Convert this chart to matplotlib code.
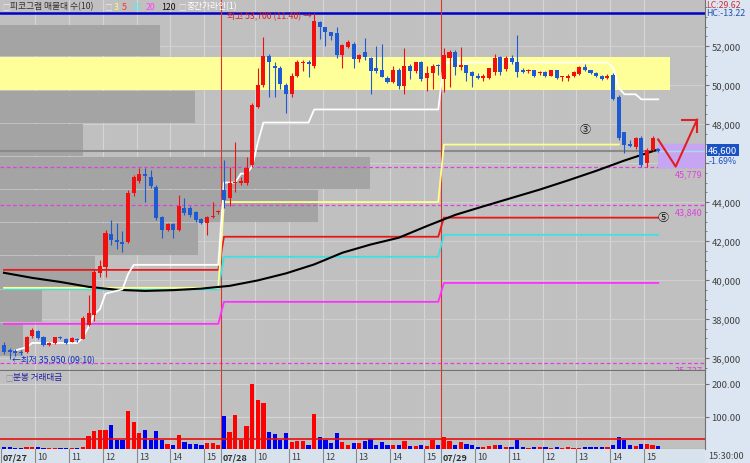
import numpy as np
import matplotlib
matplotlib.use("Agg")
import matplotlib.pyplot as plt
from matplotlib.patches import Rectangle

plt.rcParams['font.family'] = ['Noto Sans CJK KR', 'DejaVu Sans']

# 10-minute candles, 39 bars a day (07/27, 07/28, 07/29)
opens = [36670, 36400, 36350, 36300, 36310, 37130, 37390, 37080, 36650, 36770,
         37080, 36980, 36820, 36920, 36980, 37700, 38210, 40370, 40680, 42370,
         42060, 41960, 41960, 44480, 45100, 45460, 45300, 44790, 43250, 42580,
         42890, 42580, 43710, 43710, 43500, 43140, 42940, 43250, 43480,
         44640, 44220, 44990, 45000, 45000, 45920, 48900, 50030, 51470, 51000,
         50900, 49980, 49520, 50490, 51150, 51210, 50960, 53220, 52960, 52700,
         52650, 51520, 51980, 52090, 51320, 51680, 51370, 50860, 50750, 50390,
         50180, 50800, 49930, 51000, 50700, 51160, 50340, 50600, 51000,
         50290, 51370, 51680, 50910, 51010, 50650, 50490, 50390, 50390, 50650,
         51420, 50810, 51370, 51210, 50800, 50700, 50750, 50600, 50650, 50490,
         50750, 50400, 50350, 50490, 50550, 50910, 50750, 50600, 50450, 50340,
         50540, 49410, 47570, 46950, 46800, 47310, 46020, 46690, 46700]
closes = [36310, 36300, 36280, 36260, 37080, 37440, 37030, 36670, 36750, 37080,
          37000, 36770, 37030, 36900, 38060, 38310, 40420, 40730, 42430, 42070,
          41960, 41850, 44480, 45300, 45460, 45350, 44840, 43200, 42580, 42890,
          42580, 43810, 43450, 43350, 43090, 42940, 43250, 43300, 43520,
          44120, 44990, 45050, 45100, 45770, 49000, 50030, 51470, 51160, 50900,
          50080, 49520, 50490, 51210, 51210, 51060, 53280, 52960, 52700, 52500,
          51520, 52040, 52190, 51320, 51520, 51420, 50700, 50700, 50440, 50180,
          50750, 49930, 51000, 50700, 51160, 50290, 50600, 51000, 50980,
          51520, 51680, 50910, 51010, 50600, 50490, 50390, 50490, 50860, 51370,
          50650, 51370, 51210, 50650, 50650, 50750, 50490, 50600, 50490, 50750,
          50340, 50400, 50450, 50650, 50910, 50750, 50600, 50450, 50290, 50490,
          49310, 47310, 46950, 46900, 47310, 45920, 46690, 47310, 46600]
highs = [36820, 36500, 36450, 36400, 37150, 37540, 37450, 37120, 36800, 37100,
         37150, 37000, 37060, 37000, 38150, 39240, 40500, 41040, 42580, 43090,
         42900, 42500, 44640, 45400, 45770, 45750, 45620, 44850, 43300, 42950,
         42950, 44380, 44220, 43800, 43550, 43200, 43300, 44000, 43600,
         46180, 45820, 47100, 45300, 46300, 49100, 50900, 52450, 51600, 51200,
         51000, 50100, 50600, 51300, 51300, 51300, 53700, 53300, 53000, 52750,
         53000, 52100, 52300, 52200, 51600, 52400, 51450, 52000, 52090, 50450,
         51000, 50900, 51920, 51100, 51200, 51250, 51000, 51100, 51100,
         51880, 51800, 51800, 51930, 51050, 50700, 50600, 50550, 50900, 51600,
         51500, 51500, 51550, 52550, 50900, 50850, 50800, 50700, 50700, 50800,
         50800, 50450, 50550, 50700, 51000, 51100, 50800, 50650, 50500, 50550,
         50600, 49500, 47600, 47200, 47350, 47400, 46750, 47400, 46750]
lows = [36200, 35950, 36100, 36150, 36250, 37050, 36950, 36600, 36600, 36720,
        36950, 36720, 36800, 36820, 36950, 37650, 37900, 40160, 40160, 41800,
        41600, 41450, 41900, 44300, 45000, 44020, 44700, 43100, 42170, 42500,
        42170, 42500, 43350, 43250, 43000, 42880, 42320, 43200, 43400,
        43710, 43800, 44500, 44900, 44900, 45800, 48800, 49900, 49400, 49400,
        49800, 48590, 49400, 50400, 50700, 50440, 50900, 52350, 52000, 52300,
        51400, 50900, 51900, 50900, 51200, 51300, 49520, 50600, 50400, 50100,
        50100, 49800, 49520, 50300, 50600, 50200, 49700, 49780, 50500,
        49670, 49900, 50500, 50800, 50200, 49900, 50300, 50200, 50300, 50500,
        50500, 50700, 51100, 50400, 50600, 50600, 50400, 50500, 50400, 50450,
        50300, 50200, 50200, 50400, 50500, 50700, 50550, 50400, 50250, 50300,
        49250, 47200, 46540, 46800, 46700, 45800, 45820, 46600, 46550]

# 분봉 거래대금 (10-min traded value)
volume = [6, 6, 4, 4, 6, 5, 5, 3, 3, 3, 3, 3, 3, 3, 7, 41, 56, 60, 58, 73,
          27, 29, 116, 83, 49, 58, 29, 54, 29, 16, 12, 43, 23, 14, 14, 11, 20, 20, 12,
          101, 53, 104, 29, 71, 199, 151, 143, 51, 46, 29, 49, 21, 26, 25, 13, 109,
          36, 27, 20, 48, 21, 13, 19, 18, 25, 30, 13, 23, 11, 13, 11, 26, 9, 9, 11,
          9, 28, 13,
          36, 25, 12, 22, 16, 13, 6, 6, 8, 11, 11, 7, 6, 28, 5, 3, 5, 5, 5, 3, 5,
          4, 5, 4, 4, 5, 5, 5, 5, 5, 13, 36, 29, 13, 8, 15, 15, 13, 9]
vol_avg = 32

dates = ['07/27', '07/28', '07/29']
hours = ['10', '11', '12', '13', '14', '15']
bars_per_day = 39

# daily moving averages 3, 5, 10, 20 (one level per day)
ma3 = [39600, 44000, 46950]
ma5 = [40520, 42220, 43200]
ma10 = [39520, 41190, 42320]
ma20 = [37750, 38880, 39850]

# 120-bar moving average
ma120_idx = [0, 5, 10, 15, 20, 25, 30, 35, 40, 45, 50, 55, 60, 65, 70, 75,
             80, 85, 90, 95, 100, 105, 110, 116]
ma120 = [40370, 40110, 39900, 39650, 39500, 39440, 39480, 39560, 39700, 39980,
         40340, 40800, 41400, 41820, 42170, 42770, 43340, 43780, 44210, 44640,
         45110, 45600, 46130, 46700]

# 중간가라인
mid_idx = [2, 4, 5, 13, 14, 15, 16, 17, 18, 21, 22, 23, 38, 39, 41, 42, 43,
           44, 45, 46, 54, 55, 77, 78, 107, 108, 109, 110, 112, 113, 116]
mid_val = [36390, 36550, 36770, 36770, 37050, 37600, 38250, 38500, 39300,
           39520, 40300, 40780, 40780, 45000, 45000, 45460, 45460, 45820, 47050,
           48080, 48080, 48750, 48750, 51160, 51160, 50900, 49870, 49530, 49530,
           49270, 49270]

# 매물대 (10 price bands) and relative volume in %
band_edges = [36050, 37800, 39500, 41250, 42950, 44640, 46340, 48040, 49740, 51490, 53130]
band_vol = [3.4, 6.3, 14.2, 29.6, 47.5, 55.2, 12.4, 29.1, 100, 23.9]

high_price, high_time = 53700, '11:40'
low_price, low_time = 35950, '09:10'
last_price, last_change = 46600, -1.69
levels = [45779, 43840, 35727]
lc, hc = 29.62, -13.22

# projection drawn on the right
proj_x = [116, 119.1, 122.9]
proj_y = [47210, 45820, 48230]
head_x = [120.2, 122.9, 122.9]
head_y = [48230, 48230, 47570]

W, H = 750, 464
BG = '#c0c0c0'
PANEL = '#dce6f2'
fig = plt.figure(figsize=(7.5, 4.64), dpi=100)
fig.patch.set_facecolor(PANEL)

def fx(x):
    return x / W

def fy(y):
    return 1 - y / H

ax = fig.add_axes([0, fy(371), fx(705), 371 / H])
axv = fig.add_axes([0, fy(450), fx(705), 78 / H], sharex=ax)
axd = fig.add_axes([0, 0, fx(705), 14 / H], sharex=ax)

n = len(opens)
idx = np.arange(n)
o = np.array(opens)
c = np.array(closes)
up = c >= o
xmin, xmax = -0.71, 124.3

for a in (ax, axv):
    a.set_facecolor(BG)
    a.set_xlim(xmin, xmax)
    for s in ('left', 'top'):
        a.spines[s].set_visible(False)
    for s in ('right', 'bottom'):
        a.spines[s].set_color('#707070')
    a.tick_params(axis='x', bottom=False, labelbottom=False)
    a.yaxis.tick_right()
    a.tick_params(axis='y', labelsize=6.8, labelcolor='#404040', color='#707070',
                  length=3, pad=1.5)

ax.set_ylim(35383, 54418)
axv.set_ylim(0, 240)

# grid
hour_pos = []
day_pos = []
for d in range(len(dates)):
    day_pos.append(d * bars_per_day - 0.5)
    for k in range(1, len(hours) + 1):
        hour_pos.append(d * bars_per_day + 6 * k - 0.5)
for a in (ax, axv):
    for p in hour_pos:
        a.axvline(p, color='#d6d6d6', lw=0.8, zorder=0.6)
for p in range(36000, 54000, 2000):
    ax.axhline(p, color='#d0d0d0', lw=0.8, zorder=0.6)
for p in (100, 200):
    axv.axhline(p, color='#d6d6d6', lw=0.8, zorder=0.6)

# 매물대
span = 118.1 - xmin
for k in range(len(band_vol)):
    lo, hi = band_edges[k], band_edges[k + 1]
    col = '#ffff99' if band_vol[k] == max(band_vol) else '#a4a4a4'
    ax.barh((lo + hi) / 2, band_vol[k] / 100 * span, left=xmin, height=(hi - lo) * 0.97,
            color=col, zorder=0.8)

# levels
for lv in levels:
    ax.axhline(lv, color='#e040e0', lw=0.9, ls=(0, (3, 2)), zorder=1)
    t = ax.text(123.9, lv - 120, f'{lv:,}', color='#e040e0', fontsize=6.5,
                ha='right', va='top', zorder=6)
    t.set_clip_on(True)
ax.axhline(high_price, color='#0000c8', lw=1.8, zorder=2)
ax.axhline(last_price, color='#8a8a8a', lw=1.5, zorder=2)
for p in day_pos[1:]:
    ax.axvline(p, color='#e03030', lw=0.8, zorder=2)
    axv.axvline(p, color='#e03030', lw=0.8, zorder=2)

# daily MA steps
def day_steps(vals, end=None):
    xs = np.arange(len(vals) * bars_per_day)
    ys = np.repeat(vals, bars_per_day)
    if end is not None:
        xs, ys = xs[:end], ys[:end]
    return xs, ys

for vals, col, end in ((ma20, '#ff30ff', None), (ma10, '#40e0e0', None),
                       (ma5, '#e81818', None), (ma3, '#ffff90', 110)):
    xs, ys = day_steps(vals, end)
    ax.plot(xs, ys, color=col, lw=1.3, zorder=2.5)
ax.plot(ma120_idx, ma120, color='#000000', lw=1.5, zorder=2.6)
ax.plot(mid_idx, mid_val, color='#ffffff', lw=1.3, zorder=2.7)

# candles
ccol = np.where(up, '#f01010', '#1e5ad2')
ax.vlines(idx, lows, highs, colors=ccol, lw=0.8, zorder=3)
body = np.maximum(np.abs(c - o), 55)
ax.bar(idx, body, bottom=np.minimum(o, c), width=0.72, color=ccol, zorder=4)

# projection box and arrow
ax.add_patch(Rectangle((116, 45780), xmax - 116, 47000 - 45780, color='#c6a6f2', zorder=2.8))
ax.plot([116, xmax], [last_price, last_price], color='#a6dce6', lw=1, zorder=2.9)
ax.plot(proj_x, proj_y, color='#e02020', lw=1.5, zorder=5)
ax.plot(head_x, head_y, color='#e02020', lw=1.5, zorder=5)
ax.text(103, 47730, '③', fontsize=8, ha='center', va='center', color='#101010', zorder=6)
ax.text(116.8, 43220, '⑤', fontsize=8, ha='center', va='center', color='#101010', zorder=6)

ax.text(39.6, 53560, f'최고 {high_price:,} ({high_time}) →', color='#e02020',
        fontsize=6.3, ha='left', va='center', zorder=6)
ax.text(1.4, 35900, f'←최저 {low_price:,} ({low_time})', color='#1030c0',
        fontsize=6.3, ha='left', va='center', zorder=6)

# the 46,000 label sits under the current-price box
yt = list(range(36000, 54000, 2000))
ax.set_yticks(yt)
ax.set_yticklabels(['' if v == 46000 else f'{v:,}' for v in yt])
ax.set_yticks(range(35500, 54500, 500), minor=True)
ax.tick_params(axis='y', which='minor', length=1.5, color='#707070')

# volume
vcol = np.where(up, '#ff0000', '#0000f0')
axv.bar(idx, volume, width=0.75, color=vcol, zorder=3)
axv.axhline(vol_avg, color='#e81010', lw=1.2, zorder=4)
axv.set_yticks([100, 200])
axv.set_yticklabels(['100.00', '200.00'])
axv.text(0.3, 222, '□', color='#9090a0', fontsize=5.5, va='center')
axv.text(1.6, 222, '분봉 거래대금', color='#2020a0', fontsize=6.2, va='center')

# date strip
axd.set_facecolor('#d8e2ec')
axd.set_ylim(0, 1)
axd.set_xticks([])
axd.set_yticks([])
for s in axd.spines.values():
    s.set_visible(False)
for d in range(len(dates)):
    axd.axvline(day_pos[d], color='#8a8a8a', lw=0.8)
    axd.text(day_pos[d] + 0.3, 0.45, dates[d], fontsize=6.5, fontweight='bold',
             color='#303030', va='center', ha='left')
    for k in range(len(hours)):
        p = hour_pos[d * len(hours) + k]
        axd.axvline(p, color='#8a8a8a', lw=0.8)
        axd.text(p + 0.4, 0.45, hours[k], fontsize=6.5, color='#404040',
                 va='center', ha='left')

# header legend
fig.text(fx(2), fy(7), '□', color='#e8e8e8', fontsize=5.5, va='center')
fig.text(fx(10), fy(7), '피코그램 매물대 수(10)', color='#303030', fontsize=6.3, va='center')
fig.text(fx(104), fy(7), '□', color='#e8e8e8', fontsize=5.5, va='center')
for txt, col, x in (('3', '#ffff70', 114), ('5', '#ff3030', 122), ('10', '#60e8e8', 131),
                    ('20', '#ff40ff', 146), ('120', '#101010', 161)):
    fig.text(fx(x), fy(7), txt, color=col, fontsize=6.3, va='center')
fig.text(fx(178), fy(7), '□', color='#e8e8e8', fontsize=5.5, va='center')
fig.text(fx(187), fy(7), '중간가라인(1)', color='#ffffff', fontsize=6.3, va='center')

# right panel texts
fig.text(fx(706), fy(5), f'LC:{lc:.2f}', color='#d03030', fontsize=6.3, va='center')
fig.text(fx(706), fy(14), f'HC:{hc:.2f}', color='#2050b0', fontsize=6.3, va='center')
fig.text(fx(708), fy(151), f'{last_price:,}', color='white', fontsize=6.8, va='center',
         bbox=dict(boxstyle='square,pad=0.15', fc='#1a52c4', ec='none'))
fig.text(fx(709), fy(162), f'{last_change:.2f}%', color='#2050c0', fontsize=6.3, va='center')
fig.text(fx(708), fy(457), '15:30:00', color='#404040', fontsize=6.5, va='center')

fig.savefig('out.png', dpi=100, facecolor=fig.get_facecolor())
